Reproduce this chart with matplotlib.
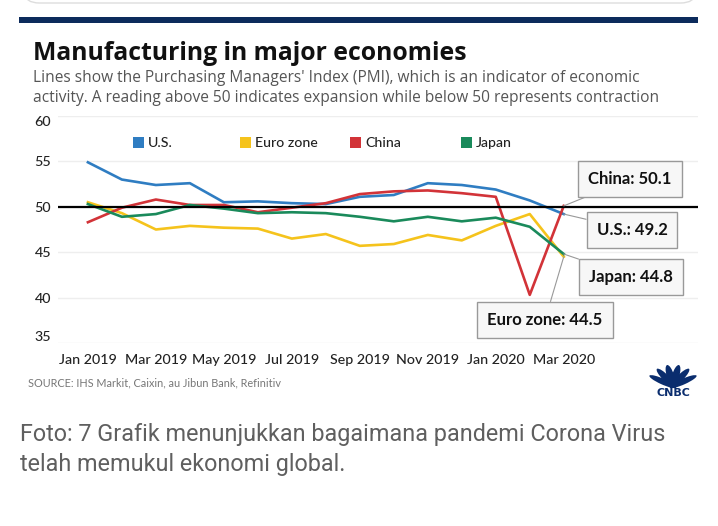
import matplotlib as mpl
mpl.use('agg')
import numpy as np
import matplotlib.pyplot as plt
from matplotlib.patches import Ellipse, FancyBboxPatch, Rectangle

months = ["Jan 2019", "Feb 2019", "Mar 2019", "Apr 2019", "May 2019", "Jun 2019", "Jul 2019",
          "Aug 2019", "Sep 2019", "Oct 2019", "Nov 2019", "Dec 2019", "Jan 2020", "Feb 2020", "Mar 2020"]
us    = [54.9, 53.0, 52.4, 52.6, 50.5, 50.6, 50.4, 50.3, 51.1, 51.3, 52.6, 52.4, 51.9, 50.7, 49.2]
euro  = [50.5, 49.3, 47.5, 47.9, 47.7, 47.6, 46.5, 47.0, 45.7, 45.9, 46.9, 46.3, 47.9, 49.2, 44.5]
china = [48.3, 49.9, 50.8, 50.2, 50.2, 49.4, 49.9, 50.4, 51.4, 51.7, 51.8, 51.5, 51.1, 40.3, 50.1]
japan = [50.3, 48.9, 49.2, 50.2, 49.8, 49.3, 49.4, 49.3, 48.9, 48.4, 48.9, 48.4, 48.8, 47.8, 44.8]
yticks = [35, 40, 45, 50, 55, 60]

c_us, c_eu, c_cn, c_jp = '#2f7dc2', '#f5c31c', '#d23338', '#1a8a5b'

W, H = 718, 526
fig = plt.figure(figsize=(7.18, 5.26), dpi=100)
fig.patch.set_facecolor('white')

def fx(px): return px / W
def fy(py): return 1 - py / H

# card edge at top and navy bar
fig.add_artist(FancyBboxPatch((fx(25), fy(3)), fx(670), 0.2, boxstyle="round,pad=0,rounding_size=0.02",
                              transform=fig.transFigure, facecolor='white', edgecolor='#dddddd', lw=1))
fig.add_artist(Rectangle((fx(19), fy(23)), fx(679), 6 / H, transform=fig.transFigure,
                         facecolor='#0c2b5c', edgecolor='none'))

plt.rcParams['font.family'] = ['Lato', 'DejaVu Sans']
fig.text(fx(33), fy(60), "Manufacturing in major economies", fontsize=17.8, fontweight='bold', color='#111111',
         family=['Open Sans', 'DejaVu Sans'])
fig.text(fx(33), fy(82), "Lines show the Purchasing Managers' Index (PMI), which is an indicator of economic",
         fontsize=11.2, color='#555555', family=['Open Sans', 'DejaVu Sans'])
fig.text(fx(33), fy(102), "activity. A reading above 50 indicates expansion while below 50 represents contraction",
         fontsize=11.2, color='#555555', family=['Open Sans', 'DejaVu Sans'])

ax = fig.add_axes([fx(58), fy(343), fx(698 - 58), (343 - 116) / H])
x = np.arange(len(months))
ax.plot(x, us, color=c_us, lw=1.9, label='U.S.')
ax.plot(x, euro, color=c_eu, lw=1.9, label='Euro zone')
ax.plot(x, china, color=c_cn, lw=1.9, label='China')
ax.plot(x, japan, color=c_jp, lw=1.9, label='Japan')
ax.axhline(50, color='black', lw=1.6, zorder=3)

ax.set_ylim(35, 60)
ax.set_xlim(-0.88, 17.95)
ax.set_yticks(yticks)
ax.set_xticks(x[::2])
ax.set_xticklabels(months[::2])
ax.grid(axis='y', color='#eeeeee', lw=1)
ax.set_axisbelow(True)
for s in ax.spines.values():
    s.set_visible(False)
ax.tick_params(length=0, labelsize=10.3, colors='#222222')
ax.tick_params(axis='y', pad=5)
ax.tick_params(axis='x', pad=8)
for lab in ax.get_yticklabels() + ax.get_xticklabels():
    lab.set_fontweight('medium')
ylabs = ax.get_yticklabels()
ylabs[-1].set_va('top')
ylabs[0].set_va('bottom')

# legend
legx = [133, 240, 350, 461]
for lx, col, name in zip(legx, [c_us, c_eu, c_cn, c_jp], ['U.S.', 'Euro zone', 'China', 'Japan']):
    fig.add_artist(Rectangle((fx(lx), fy(148)), fx(11), 11 / H, transform=fig.transFigure,
                             facecolor=col, edgecolor='none'))
    fig.text(fx(lx + 15), fy(143), name, fontsize=10.2, va='center', color='#222222', fontweight='medium')

# end labels
labels = ["China: 50.1", "U.S.: 49.2", "Japan: 44.8", "Euro zone: 44.5"]
ends = [china[-1], us[-1], japan[-1], euro[-1]]
centers = [(630, 179), (632, 230), (631, 277), (545, 320)]
for txt, val, (cx, cy) in zip(labels, ends, centers):
    ax.annotate(txt, xy=(x[-1], val), xycoords='data',
                xytext=(fx(cx), fy(cy)), textcoords='figure fraction',
                ha='center', va='center', fontsize=12, fontweight='bold', color='#111111',
                bbox=dict(boxstyle='square,pad=0.6', facecolor='#f7f7f7', edgecolor='#999999', lw=1),
                arrowprops=dict(arrowstyle='-', color='#999999', lw=0.8, shrinkA=0, shrinkB=0),
                zorder=5)

fig.text(fx(28), fy(386), "SOURCE: IHS Markit, Caixin, au Jibun Bank, Refinitiv", fontsize=7.8, color='#777777')

# CNBC peacock
navy = '#0a2d6e'
cx0, cy0 = 673, 388
for ang in [-58, -35, -12, 12, 35, 58]:
    a = np.deg2rad(ang)
    ex = cx0 + 12 * np.sin(a)
    ey = cy0 - 12 * np.cos(a)
    fig.add_artist(Ellipse((fx(ex), fy(ey)), 7.5 / W, 23 / H, angle=-ang, transform=fig.transFigure,
                           facecolor=navy, edgecolor='none'))
fig.text(fx(673), fy(393), "CNBC", fontsize=8, fontweight='black', color=navy, ha='center', va='center',
         family=['DejaVu Sans'])

fig.text(fx(20), fy(441), "Foto: 7 Grafik menunjukkan bagaimana pandemi Corona Virus",
         fontsize=16.8, color='#5f5f5f', family=['Roboto', 'DejaVu Sans'])
fig.text(fx(20), fy(471), "telah memukul ekonomi global.",
         fontsize=16.8, color='#5f5f5f', family=['Roboto', 'DejaVu Sans'])

plt.savefig("out.png", dpi=100)
